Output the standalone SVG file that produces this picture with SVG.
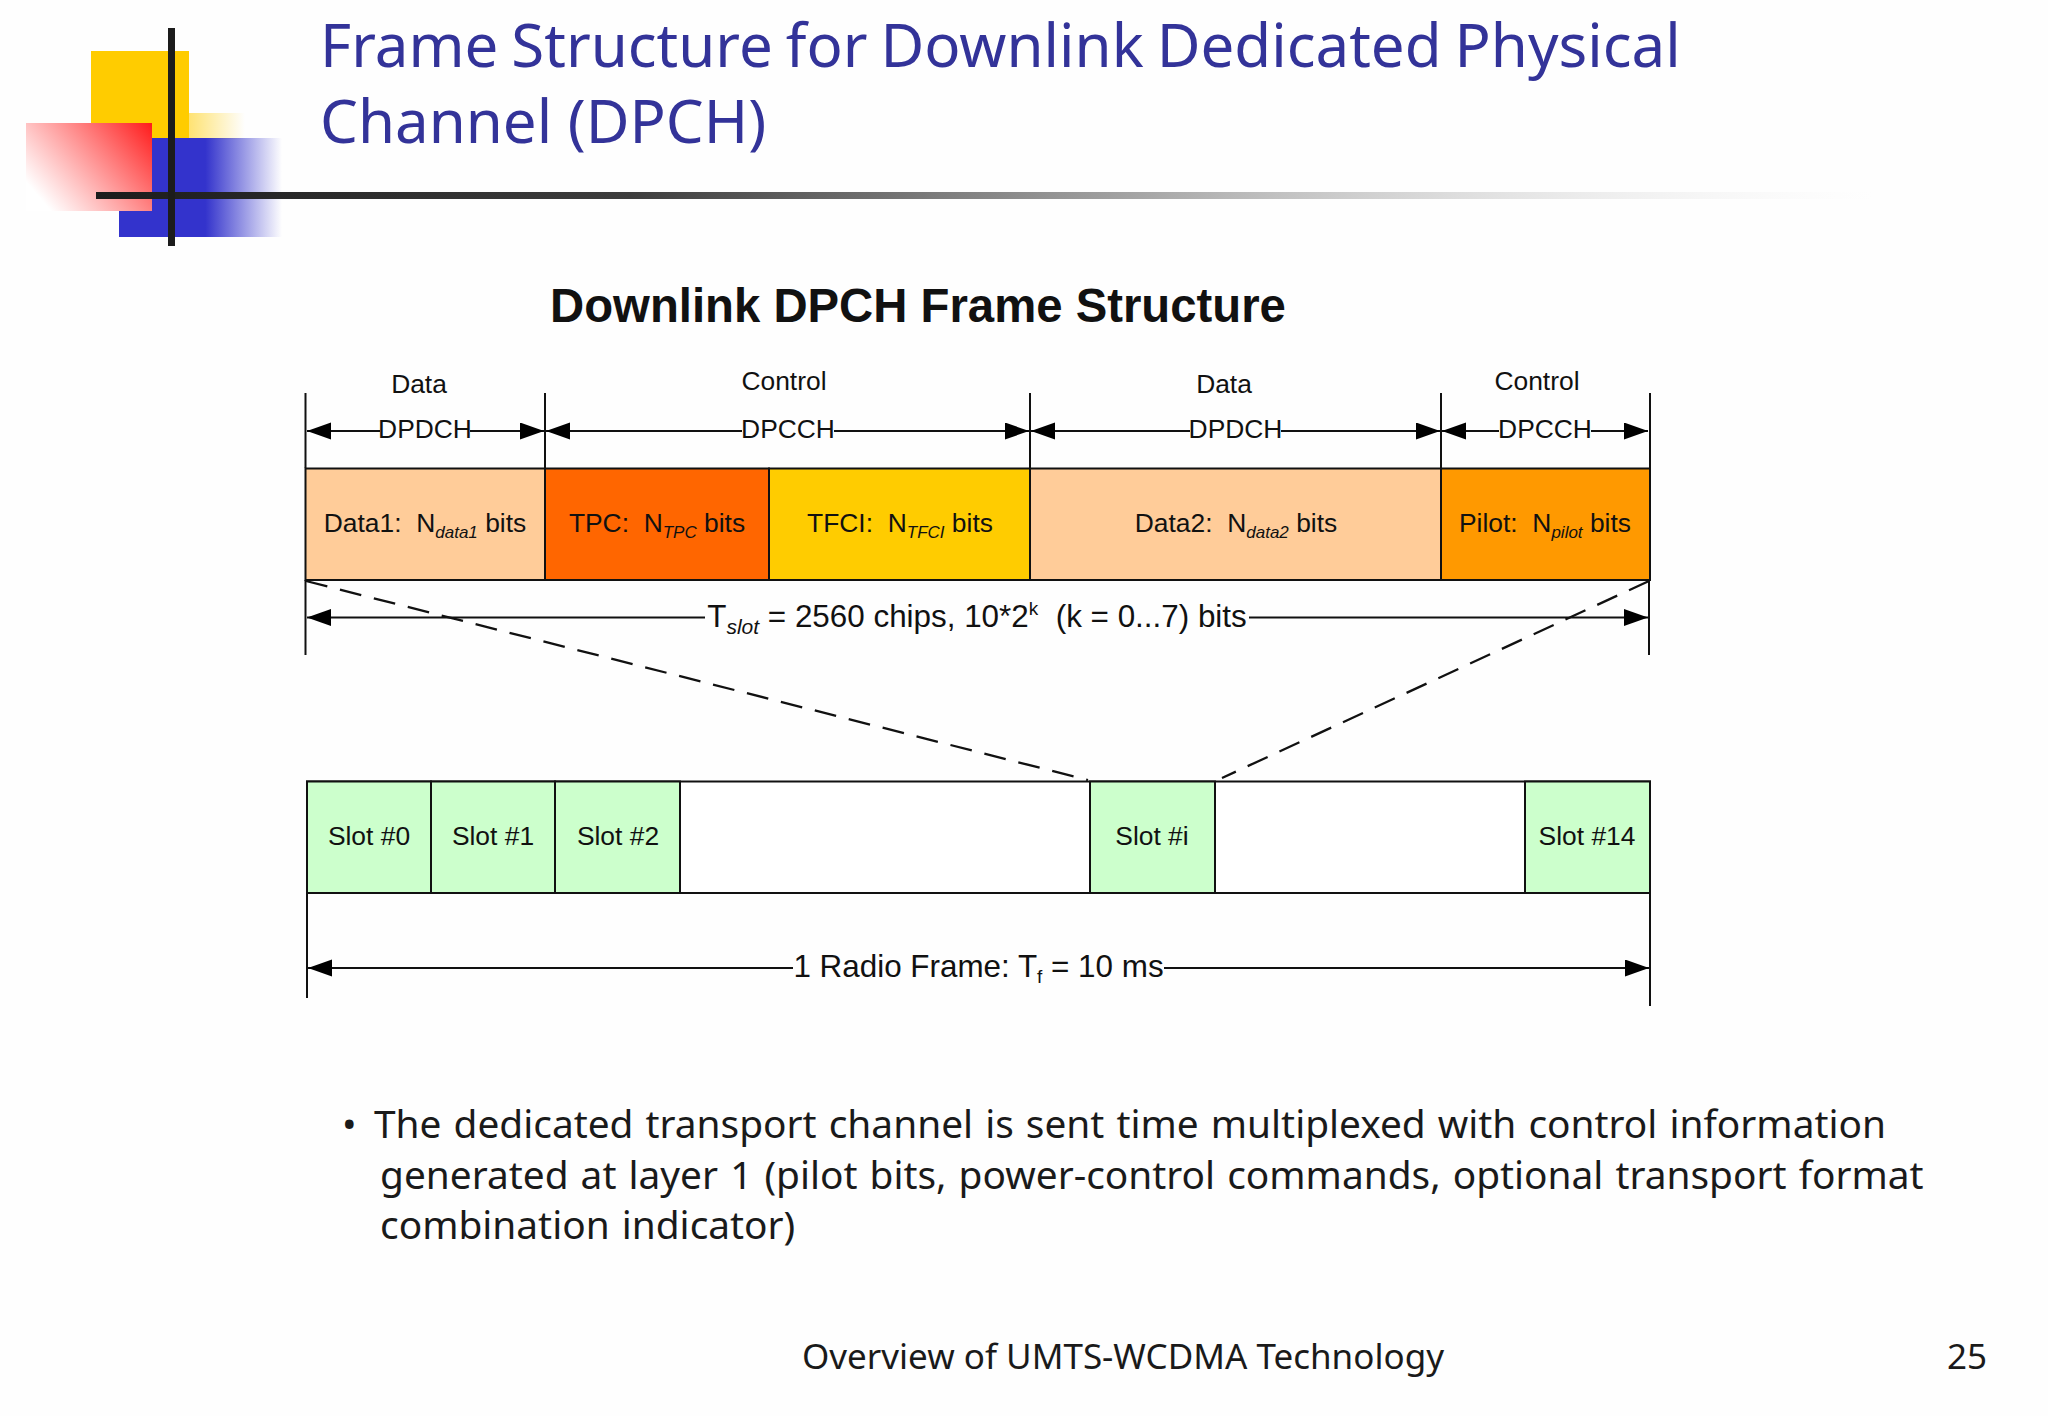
<svg xmlns="http://www.w3.org/2000/svg" width="2048" height="1416" viewBox="0 0 2048 1416">
<style>
text{font-family:"Liberation Sans",Arial,sans-serif;fill:#111;font-size:26.400px;text-anchor:middle;white-space:pre}
.t{font-family:"Noto Sans","DejaVu Sans",sans-serif;text-anchor:start}
.title{font-size:60px;fill:#333399}
.body{font-size:38.850px;fill:#1a1a1a;word-spacing:2px}
.foot{font-size:35px;fill:#1a1a1a}
.s{font-style:italic;font-size:17px}
.c{fill:none;stroke:#111;stroke-width:2}
.d{fill:none;stroke:#111;stroke-width:2.300;stroke-dasharray:22 13}
.a{marker-end:url(#ah)}
.b{stroke:#111;stroke-width:2}
</style>
<defs>
<marker id="ah" markerUnits="userSpaceOnUse" markerWidth="25" markerHeight="18" refX="24" refY="8.500" orient="auto"><path d="M0 0L24 8.500L0 17Z" fill="#000"/></marker>
<linearGradient id="gy" x1="0" x2="1" y1="0" y2="0"><stop offset="0" stop-color="#ffcc00" stop-opacity=".55"/><stop offset="1" stop-color="#ffcc00" stop-opacity="0"/></linearGradient>
<linearGradient id="gb" gradientUnits="userSpaceOnUse" x1="119" x2="282" y1="0" y2="0"><stop offset=".53" stop-color="#3333cc"/><stop offset="1" stop-color="#3333cc" stop-opacity="0"/></linearGradient>
<linearGradient id="gr" gradientUnits="userSpaceOnUse" x1="152" y1="123" x2="50" y2="210"><stop offset="0" stop-color="#ff1a1a"/><stop offset="1" stop-color="#ff3333" stop-opacity="0"/></linearGradient>
<linearGradient id="gl" gradientUnits="userSpaceOnUse" x1="96" x2="1875" y1="0" y2="0"><stop offset="0" stop-color="#1c1c1c"/><stop offset=".3" stop-color="#3d3d3d"/><stop offset=".6" stop-color="#aaa"/><stop offset="1" stop-color="#eee" stop-opacity="0"/></linearGradient>
</defs>
<rect width="2048" height="1416" fill="#fefefe"/>
<g id="logo">
<rect x="189" y="113" width="56" height="26" fill="url(#gy)"/>
<rect x="91" y="51" width="98" height="88" fill="#ffcc00"/>
<rect x="119" y="138" width="163" height="99" fill="url(#gb)"/>
<rect x="26" y="123" width="126" height="88" fill="#fff"/>
<rect x="26" y="123" width="126" height="88" fill="url(#gr)"/>
<rect x="96" y="192" width="1780" height="7" fill="url(#gl)"/>
<rect x="168" y="28" width="7" height="218" fill="#1c1c1c"/>
</g>
<text class="t title" x="320" y="67" style="word-spacing:-2.600px">Frame Structure for Downlink Dedicated Physical</text>
<text class="t title" x="320" y="143">Channel (DPCH)</text>
<text x="918" y="322" style="font-weight:bold;font-size:47.300px">Downlink DPCH Frame Structure</text>

<g id="n-data1"><rect x="305.500" y="468.500" width="239.500" height="111.500" fill="#ffcc99" class="b"/><text x="425" y="532">Data1:  N<tspan class="s" dy="6">data1</tspan><tspan dy="-6"> bits</tspan></text></g>
<g id="n-tpc"><rect x="545" y="468.500" width="224" height="111.500" fill="#ff6600" class="b"/><text x="657" y="532">TPC:  N<tspan class="s" dy="6">TPC</tspan><tspan dy="-6"> bits</tspan></text></g>
<g id="n-tfci"><rect x="769" y="468.500" width="261" height="111.500" fill="#ffcc00" class="b"/><text x="900" y="532">TFCI:  N<tspan class="s" dy="6">TFCI</tspan><tspan dy="-6"> bits</tspan></text></g>
<g id="n-data2"><rect x="1030" y="468.500" width="411" height="111.500" fill="#ffcc99" class="b"/><text x="1236" y="532">Data2:  N<tspan class="s" dy="6">data2</tspan><tspan dy="-6"> bits</tspan></text></g>
<g id="n-pilot"><rect x="1441" y="468.500" width="209" height="111.500" fill="#ff9900" class="b"/><text x="1545" y="532">Pilot:  N<tspan class="s" dy="6">pilot</tspan><tspan dy="-6"> bits</tspan></text></g>

<g id="n-frame"><rect x="307" y="781.500" width="1343" height="111.500" fill="#fff" class="b"/></g>
<g id="n-slot0"><rect x="307" y="781.500" width="124" height="111.500" fill="#ccffcc" class="b"/><text x="369" y="845">Slot #0</text></g>
<g id="n-slot1"><rect x="431" y="781.500" width="124" height="111.500" fill="#ccffcc" class="b"/><text x="493" y="845">Slot #1</text></g>
<g id="n-slot2"><rect x="555" y="781.500" width="125" height="111.500" fill="#ccffcc" class="b"/><text x="618" y="845">Slot #2</text></g>
<g id="n-sloti"><rect x="1090" y="781.500" width="125" height="111.500" fill="#ccffcc" class="b"/><text x="1152" y="845">Slot #i</text></g>
<g id="n-slot14"><rect x="1525" y="781.500" width="125" height="111.500" fill="#ccffcc" class="b"/><text x="1587" y="845">Slot #14</text></g>

<g id="connectors">
<path class="c" d="M305.500 393V468M545 393V468M1030 393V468M1441 393V468M1650 393V468M305.500 580V655M1649 580V655M307 893V998M1650 893V1006"/>
<path class="d" d="M306 581L1088 780M1649 581L1222 778"/>
<path class="c a" d="M380 431H307"/><path class="c a" d="M470 431H544"/>
<path class="c a" d="M742 431H546"/><path class="c a" d="M834 431H1029"/>
<path class="c a" d="M1190 431H1031"/><path class="c a" d="M1281 431H1440"/>
<path class="c a" d="M1499 431H1442"/><path class="c a" d="M1591 431H1648"/>
<path class="c a" d="M705 617.500H307"/><path class="c a" d="M1249 617.500H1648"/>
<path class="c a" d="M793 968H308"/><path class="c a" d="M1164 968H1649"/>
</g>
<g id="labels">
<text x="419" y="393">Data</text><text x="784" y="390">Control</text><text x="1224" y="393">Data</text><text x="1537" y="390">Control</text>
<text x="425" y="438">DPDCH</text><text x="788" y="438">DPCCH</text><text x="1235.500" y="438">DPDCH</text><text x="1545" y="438">DPCCH</text>
<text x="977" y="627" style="font-size:31.400px">T<tspan class="s" dy="7" style="font-size:21px">slot</tspan><tspan dy="-7"> = 2560 chips, 10*2</tspan><tspan dy="-12" style="font-size:19px">k</tspan><tspan dy="12">  (k = 0...7) bits</tspan></text>
<text x="978.500" y="977" style="font-size:31.400px">1 Radio Frame: T<tspan dy="6" style="font-size:19px">f</tspan><tspan dy="-6"> = 10 ms</tspan></text>
</g>
<text class="t body" x="342" y="1138">•</text>
<text class="t body" x="374" y="1138">The dedicated transport channel is sent time multiplexed with control information</text>
<text class="t body" x="380" y="1189">generated at layer 1 (pilot bits, power-control commands, optional transport format</text>
<text class="t body" x="380" y="1239">combination indicator)</text>
<text class="t foot" x="802" y="1369">Overview of UMTS-WCDMA Technology</text>
<text class="t foot" x="1947" y="1369">25</text>
</svg>
